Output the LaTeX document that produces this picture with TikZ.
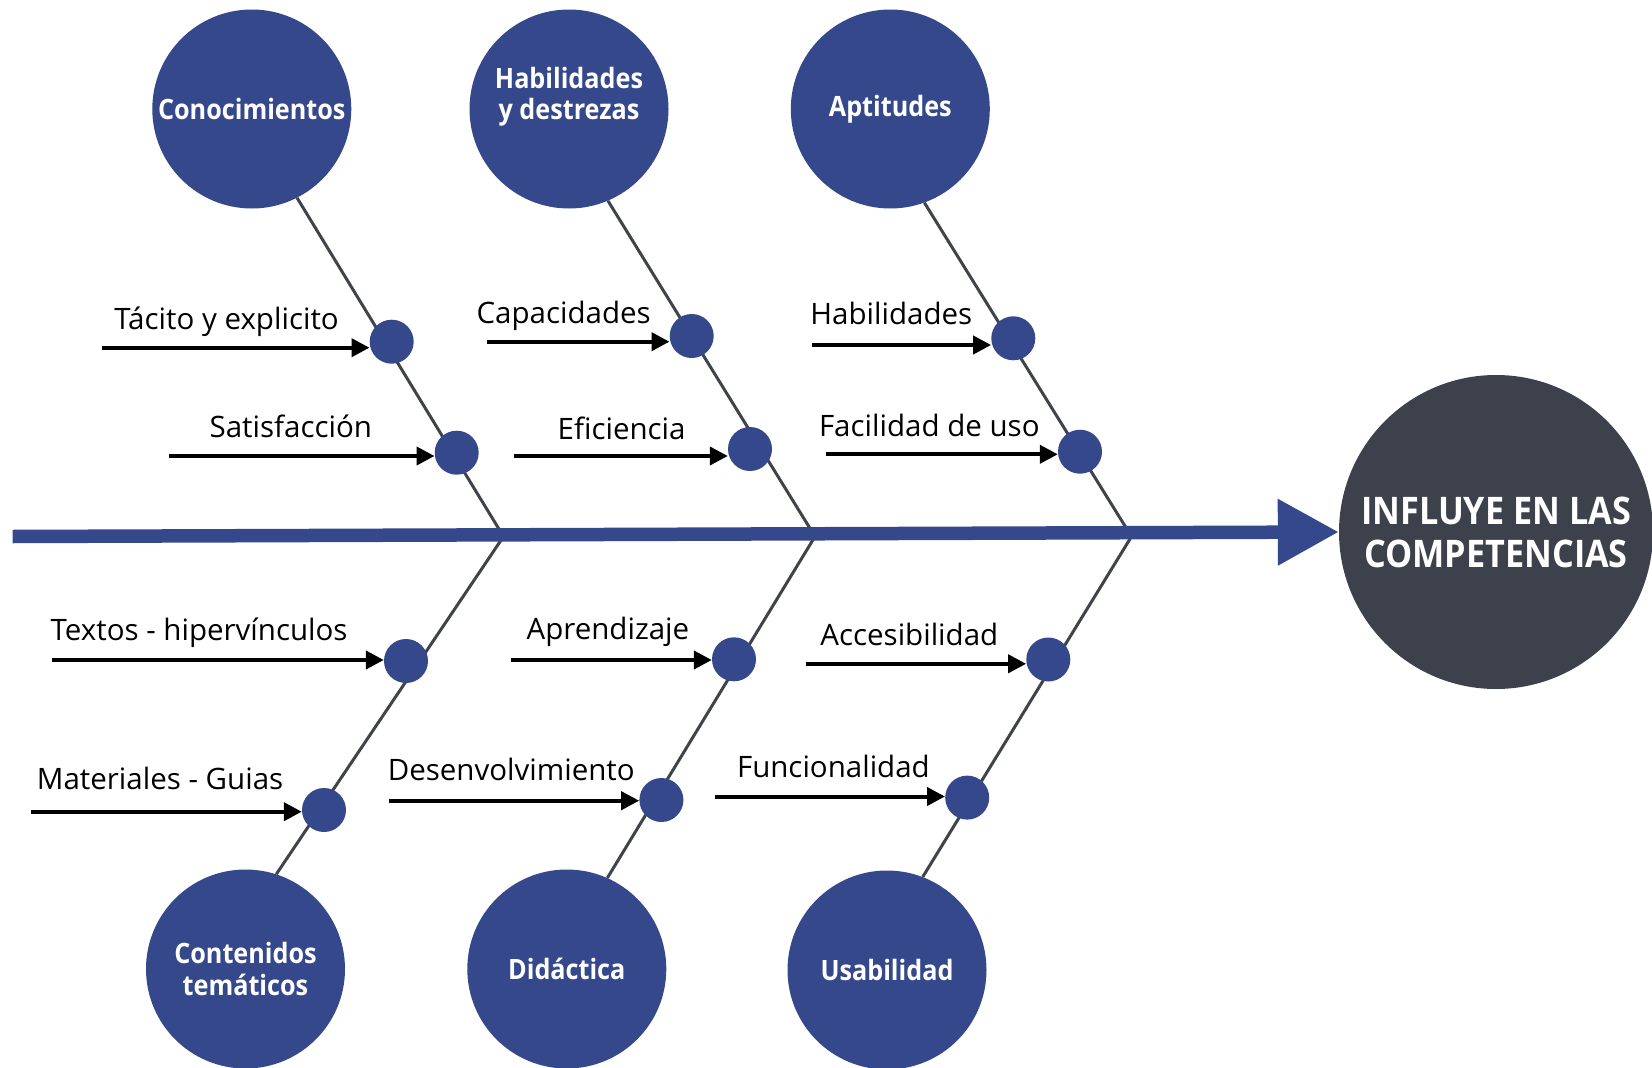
\documentclass[tikz,border=0pt]{standalone}
\usepackage{fontspec}
\setmainfont{Open Sans}
\newfontfamily\circfont{Open Sans}[FakeStretch=0.9]
\usetikzlibrary{arrows.meta,backgrounds}
\definecolor{fbblue}{HTML}{34488B}
\definecolor{fbdark}{HTML}{3C414C}
\definecolor{bonegray}{HTML}{404349}
\tikzset{
  cause/.style={circle, fill=fbblue, minimum size=199pt, inner sep=0pt, text=white,
    font=\circfont\bfseries\fontsize{28}{31.6}\selectfont, align=center},
  effect/.style={circle, fill=fbdark, minimum size=314pt, inner sep=0pt, text=white,
    font=\circfont\bfseries\fontsize{38}{43}\selectfont, align=center},
  dot/.style={circle, fill=fbblue, minimum size=44pt, inner sep=0pt},
  bone/.style={draw=bonegray, line width=3pt},
  spine/.style={draw=fbblue, line width=13.5pt, -{Triangle[length=61pt,width=63pt]}},
  sub/.style={draw=black, line width=4pt, -{Triangle[length=18pt,width=18pt]}},
  lbl/.style={anchor=base, font=\fontsize{29.5}{35}\selectfont, inner sep=0pt, text=black},
}
\begin{document}
\begin{tikzpicture}[x=1pt,y=-1pt]
\useasboundingbox (0,0) rectangle (1652,1068);
% effect
\node[effect] (eff) at (1496,532) {INFLUYE EN LAS\\COMPETENCIAS};
% main causes
\node[cause] (c1) at (251.8,109) {Conocimientos};
\node[cause] (c2) at (569,109) {Habilidades\\y destrezas\\\mbox{}};
\node[cause] (c3) at (890.3,109) {Aptitudes};
\node[cause] (c4) at (245.5,969) {Contenidos\\temáticos};
\node[cause] (c5) at (566.8,969) {Didáctica};
\node[cause] (c6) at (887,970) {Usabilidad};
% junctions
\coordinate (sp0) at (12.6,536.5);
\coordinate (j1) at (503.5,536.5);
\coordinate (j2) at (815,536.5);
\coordinate (j3) at (1131.5,536.5);
% dots
\node[dot] (d1) at (391.7,341.7) {};
\node[dot] (d2) at (456.7,452.7) {};
\node[dot] (d3) at (691.7,336) {};
\node[dot] (d4) at (750,449) {};
\node[dot] (d5) at (1013.3,338.3) {};
\node[dot] (d6) at (1080,451.7) {};
\node[dot] (d7) at (406,661) {};
\node[dot] (d8) at (324,810) {};
\node[dot] (d9) at (734,659.3) {};
\node[dot] (d10) at (661.4,800) {};
\node[dot] (d11) at (1048.3,659.5) {};
\node[dot] (d12) at (967.2,797.6) {};
% arrow starts
\coordinate (s1) at (102.2,347.7);
\coordinate (s2) at (168.6,456);
\coordinate (s3) at (486.8,341.7);
\coordinate (s4) at (514.2,456);
\coordinate (s5) at (812.3,345);
\coordinate (s6) at (826,454.3);
\coordinate (s7) at (51.6,660);
\coordinate (s8) at (30.6,811.7);
\coordinate (s9) at (511.4,660);
\coordinate (s10) at (388.5,800.7);
\coordinate (s11) at (806,663.8);
\coordinate (s12) at (715.4,796.5);
\foreach \i in {1,...,12}{
  \draw[sub] (s\i) -- (s\i -| d\i.west);
}
% labels
\node[lbl] (l1) at (226.5,329.4) {Tácito y explicito};
\node[lbl] (l2) at (290.8,437.2) {Satisfacción};
\node[lbl] (l3) at (563.7,323.9) {Capacidades};
\node[lbl] (l4) at (621.6,439.3) {Eficiencia};
\node[lbl] (l5) at (891.3,324) {Habilidades};
\node[lbl] (l6) at (929.3,436.5) {Facilidad de uso};
\node[lbl] (l7) at (199.1,640) {Textos - hipervínculos};
\node[lbl] (l8) at (160.1,789.7) {Materiales - Guias};
\node[lbl] (l9) at (607.9,639) {Aprendizaje};
\node[lbl] (l10) at (511.2,780.7) {Desenvolvimiento};
\node[lbl] (l11) at (909.3,645) {Accesibilidad};
\node[lbl] (l12) at (833.4,777.7) {Funcionalidad};
\begin{pgfonlayer}{background}
  \draw[bone] (j1) -- (c1.-63);
  \draw[bone] (j2) -- (c2.-67);
  \draw[bone] (j3) -- (c3.-70);
  \draw[bone] (j1) -- (c4.72);
  \draw[bone] (j2) -- (c5.66);
  \draw[bone] (j3) -- (c6.69);
  \draw[spine] (sp0) -- (eff.west);
\end{pgfonlayer}
\end{tikzpicture}
\end{document}
